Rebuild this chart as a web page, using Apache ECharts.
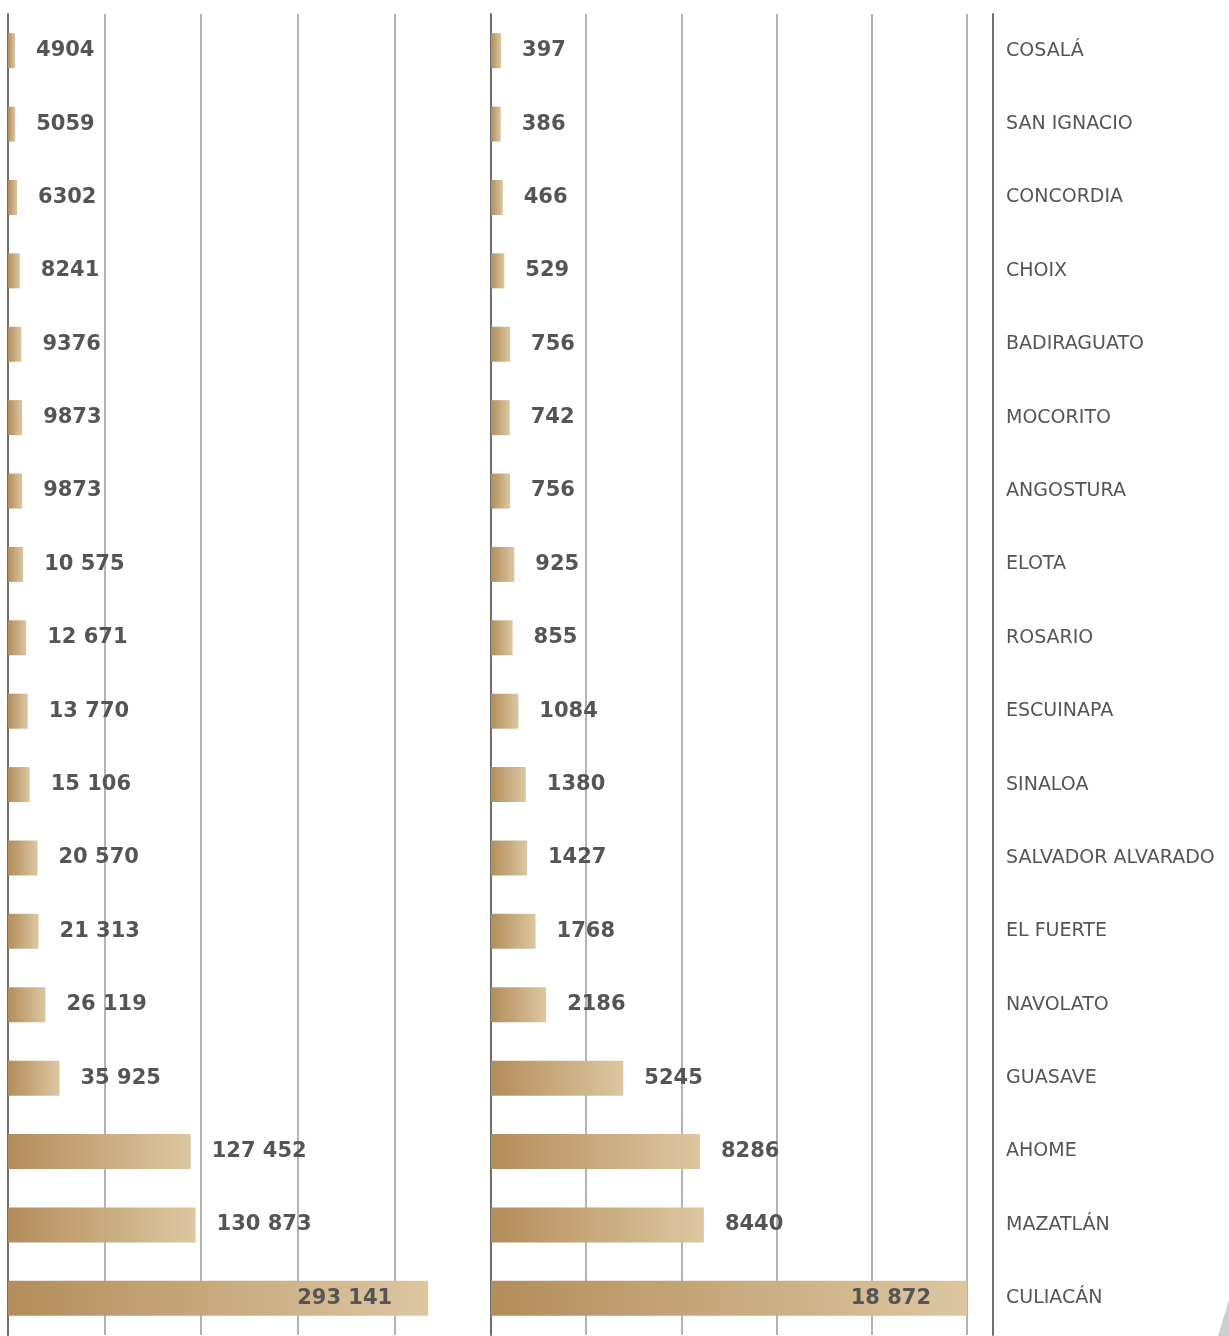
<!DOCTYPE html>
<html>
<head>
<meta charset="utf-8">
<script src="https://cdn.jsdelivr.net/npm/echarts@6/dist/echarts.min.js"></script>
<style>
html, body { margin: 0; padding: 0; background: #fff; }
#bars { width: 1229px; height: 1336px; }
</style>
</head>
<body>
<div id="bars"></div>
<script>
const municipios = ['COSALÁ', 'SAN IGNACIO', 'CONCORDIA', 'CHOIX', 'BADIRAGUATO', 'MOCORITO', 'ANGOSTURA', 'ELOTA', 'ROSARIO', 'ESCUINAPA', 'SINALOA', 'SALVADOR ALVARADO', 'EL FUERTE', 'NAVOLATO', 'GUASAVE', 'AHOME', 'MAZATLÁN', 'CULIACÁN'];
const valoresIzq = [4904, 5059, 6302, 8241, 9376, 9873, 9873, 10575, 12671, 13770, 15106, 20570, 21313, 26119, 35925, 127452, 130873, 293141];
const valoresDer = [397, 386, 466, 529, 756, 742, 756, 925, 855, 1084, 1380, 1427, 1768, 2186, 5245, 8286, 8440, 18872];

function fmt(v) {
    // miles con espacio solo desde 10 000
    if (v < 10000) return String(v);
    return String(v).replace(/\B(?=(\d{3})+(?!\d))/g, ' ');
}

const oro = new echarts.graphic.LinearGradient(0, 0, 1, 0, [
    { offset: 0, color: '#b38d5b' },
    { offset: 1, color: '#dcc7a1' }
]);

const etiqueta = {
    show: true,
    position: 'right',
    distance: 21,
    color: '#555',
    fontFamily: 'DejaVu Sans',
    fontWeight: 'bold',
    fontSize: 21,
    formatter: p => fmt(p.value)
};

function datos(arr) {
    const maxV = Math.max(...arr);
    return arr.map(v => v === maxV
        ? { value: v, label: { position: 'insideRight', distance: 36 } }
        : v);
}

let myChart = echarts.init(document.getElementById('bars'));
myChart.setOption({
    backgroundColor: '#fff',
    animation: false,
    grid: [
        { left: 8, width: 483, top: 14, bottom: 1 },
        { left: 491, width: 476, top: 14, bottom: 1 }
    ],
    xAxis: [
        {
            gridIndex: 0, type: 'value', min: 0, max: 337000, interval: 67400,
            axisLabel: { show: false }, axisTick: { show: false }, axisLine: { show: false },
            splitLine: { lineStyle: { color: '#b3b3b3', width: 2 } }
        },
        {
            gridIndex: 1, type: 'value', min: 0, max: 18872, interval: 3774.4,
            axisLabel: { show: false }, axisTick: { show: false }, axisLine: { show: false },
            splitLine: { lineStyle: { color: '#b3b3b3', width: 2 } }
        }
    ],
    yAxis: [
        {
            gridIndex: 0, type: 'category', data: municipios, inverse: true,
            axisLabel: { show: false }, axisTick: { show: false },
            axisLine: { show: true, lineStyle: { color: '#6e6e6e', width: 2 } }
        },
        {
            gridIndex: 1, type: 'category', data: municipios, inverse: true,
            axisLabel: { show: false }, axisTick: { show: false },
            axisLine: { show: true, lineStyle: { color: '#6e6e6e', width: 2 } }
        },
        {
            gridIndex: 1, type: 'category', data: municipios, inverse: true,
            position: 'right', offset: 26,
            axisTick: { show: false },
            axisLine: { show: true, lineStyle: { color: '#6e6e6e', width: 2 } },
            axisLabel: {
                show: true, margin: 13, align: 'left',
                color: '#555', fontFamily: 'DejaVu Sans', fontSize: 19
            }
        }
    ],
    series: [
        {
            type: 'bar', xAxisIndex: 0, yAxisIndex: 0,
            barWidth: 35, itemStyle: { color: oro },
            label: etiqueta, z: 3,
            data: datos(valoresIzq)
        },
        {
            type: 'bar', xAxisIndex: 1, yAxisIndex: 1,
            barWidth: 35, itemStyle: { color: oro },
            label: etiqueta, z: 3,
            data: datos(valoresDer)
        }
    ],
    graphic: [
        {
            type: 'polygon', right: 0, bottom: 0,
            shape: { points: [[0, 36], [11, 0], [11, 36]] },
            style: { fill: '#cfcfcf' }
        }
    ]
});
window.addEventListener("resize", function () {
    myChart.resize();
});
</script>
</body>
</html>
